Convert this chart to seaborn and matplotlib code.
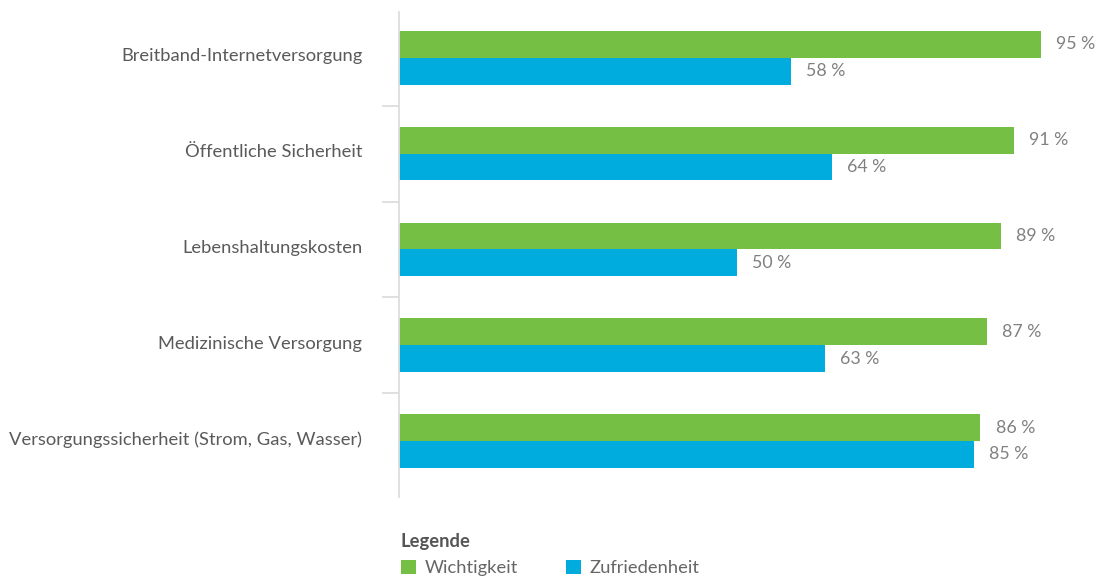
import numpy as np
import pandas as pd
import seaborn as sns
import matplotlib.pyplot as plt
from matplotlib.patches import Patch
from matplotlib.transforms import ScaledTranslation

# data
categories = ["Breitband-Internetversorgung", "Öffentliche Sicherheit", "Lebenshaltungskosten",
              "Medizinische Versorgung", "Versorgungssicherheit (Strom, Gas, Wasser)"]
wichtigkeit = [95, 91, 89, 87, 86]
zufriedenheit = [58, 64, 50, 63, 85]
series = ["Wichtigkeit", "Zufriedenheit"]
colors = ["#74BF44", "#00ACDE"]

df = pd.DataFrame({
    "Bereich": categories * 2,
    "Wert": wichtigkeit + zufriedenheit,
    "Reihe": [series[0]] * len(categories) + [series[1]] * len(categories),
})

sns.set_style("white")
plt.rcParams['font.family'] = ['Lato', 'DejaVu Sans']

fig = plt.figure(figsize=(10.98, 5.77), dpi=100)
ax = fig.add_axes([399 / 1098, 80 / 577, 676 / 1098, 485 / 577])

sns.barplot(data=df, y="Bereich", x="Wert", hue="Reihe", order=categories,
            hue_order=series, palette=colors, width=0.56, orient="h",
            saturation=1, linewidth=0, legend=False, ax=ax)

ax.set_xlim(0, 100)
ax.set_ylim(4.584, -0.479)
ax.set_xlabel("")
ax.set_ylabel("")
ax.set_xticks([])

# value labels
for cont in ax.containers:
    ax.bar_label(cont, labels=[f"{v:.0f} %" for v in cont.datavalues], padding=11,
                 fontsize=12.8, color="#808080")

# axis styling: light spine, ticks between categories
for s in ["top", "right", "bottom"]:
    ax.spines[s].set_visible(False)
ax.spines["left"].set_color("#dddddd")
ax.spines["left"].set_linewidth(1.3)
ax.tick_params(axis="y", which="major", left=False, length=0, pad=26.5, labelsize=13.2,
               labelcolor="#5a5a5a")
ax.set_yticks(np.arange(0.5, 4.5, 1), minor=True)
ax.tick_params(axis="y", which="minor", left=True, length=12.2, width=1.3, color="#dddddd")
# category labels sit a touch above the bar pair centre
shift = ScaledTranslation(0, 3 / 100, fig.dpi_scale_trans)
for lab in ax.get_yticklabels():
    lab.set_transform(lab.get_transform() + shift)

# legend
handles = [Patch(facecolor=c, edgecolor="none", label=l) for c, l in zip(colors, series)]
leg = fig.legend(handles=handles, title="Legende", loc="upper left",
                 bbox_to_anchor=(397 / 1098, 1 - 529 / 577), ncol=2, frameon=False,
                 fontsize=13.2, title_fontsize=13.2, alignment="left",
                 handlelength=0.85, handleheight=0.85, handletextpad=0.45,
                 columnspacing=2.6, borderaxespad=0, borderpad=0.2, labelspacing=0.55)
leg.get_title().set_fontweight("bold")
leg.get_title().set_color("#555555")
for t in leg.get_texts():
    t.set_color("#666666")

plt.savefig("out.png", dpi=100)
